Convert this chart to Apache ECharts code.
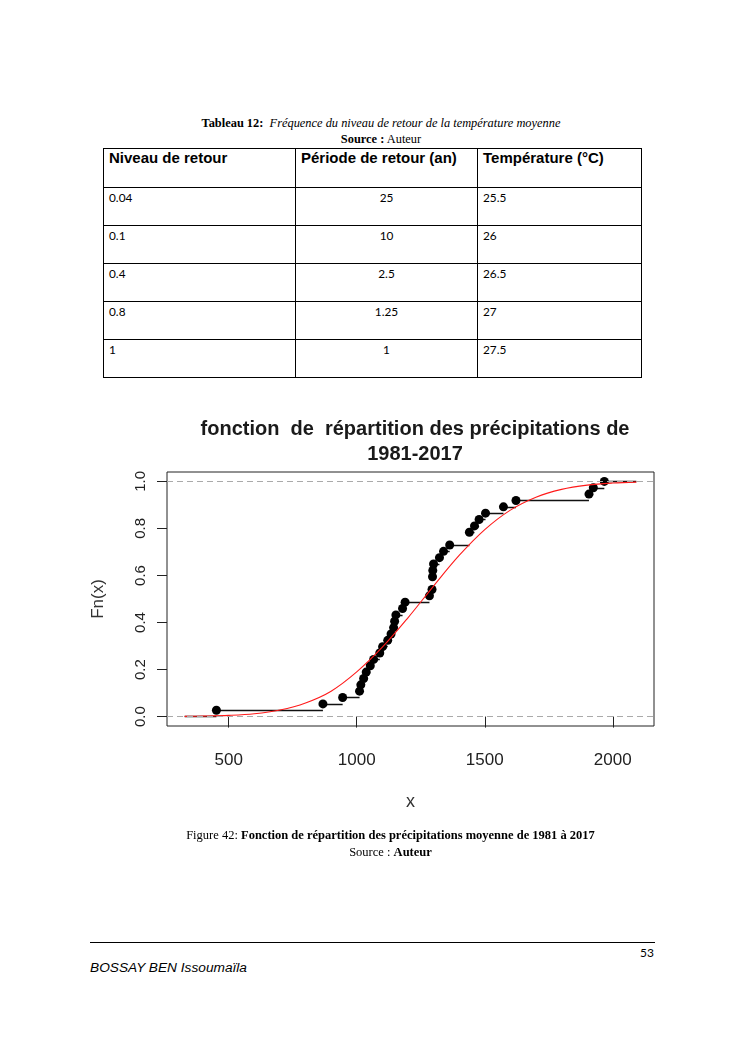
<!DOCTYPE html>
<html>
<head>
<meta charset="utf-8">
<script src="https://cdn.jsdelivr.net/npm/echarts@6/dist/echarts.min.js"></script>
<style>
  html, body { margin:0; padding:0; background:#fff; }
  #page { position:relative; width:745px; height:1053px; overflow:hidden; background:#fff; }
  #chart { position:absolute; left:0; top:380px; width:745px; height:440px; }
  .txt { position:absolute; white-space:nowrap; color:#000; }
  .serif { font-family:"Liberation Serif","DejaVu Serif",serif; }
  table.t { position:absolute; left:103px; top:148px; border-collapse:collapse; table-layout:fixed; }
  table.t td { border:1.3px solid #000; vertical-align:top; padding:0 0 0 5px; box-sizing:border-box; }
  table.t tr.h td { font-family:"Liberation Sans",Arial,sans-serif; font-weight:bold; font-size:15px; height:39px; padding-top:0px; }
  table.t tr.b td { font-family:Lato,"Open Sans",sans-serif; font-size:11.8px; height:38px; padding-top:2px; }
  table.t tr.b td.c { text-align:center; padding-left:0; }
</style>
</head>
<body>
<div id="page">
  <div class="txt serif" style="left:0;width:745px;top:116px;text-align:center;font-size:12.4px;padding-left:17px;box-sizing:border-box;" id="cap1"></div>
  <div class="txt serif" style="left:0;width:745px;top:132px;text-align:center;font-size:12.4px;padding-left:17px;box-sizing:border-box;"><b>Source :</b> Auteur</div>
  <table class="t" id="tbl"></table>
  <div id="chart"></div>
  <div class="txt serif" style="left:0;width:745px;top:828px;text-align:center;font-size:12.5px;padding-left:36px;box-sizing:border-box;">Figure 42: <b>Fonction de répartition des précipitations moyenne de 1981 à 2017</b></div>
  <div class="txt serif" style="left:0;width:745px;top:845px;text-align:center;font-size:12.5px;padding-left:36px;box-sizing:border-box;">Source : <b>Auteur</b></div>
  <div style="position:absolute;left:90px;top:942px;width:565px;height:1px;background:#000;"></div>
  <div class="txt" style="left:640px;top:945px;font-family:Lato,'Open Sans',sans-serif;font-size:12px;">53</div>
  <div class="txt" style="left:90px;top:960px;font-family:'Liberation Sans',Arial,sans-serif;font-style:italic;font-size:13.7px;">BOSSAY BEN Issoumaïla</div>
</div>
<script>
// ---------- Data ----------
const tableCaptionLabel = "Tableau 12:";
const tableCaptionText = "Fréquence du niveau de retour de la température moyenne";
const tableHeaders = ["Niveau de retour", "Période de retour (an)", "Température (°C)"];
const returnLevels = ["0.04", "0.1", "0.4", "0.8", "1"];
const returnPeriods = ["25", "10", "2.5", "1.25", "1"];
const temperatures = ["25.5", "26", "26.5", "27", "27.5"];

// Annual precipitation 1981-2017 (mm)
const precipitation = [452, 868, 945, 1011, 1016, 1027, 1037, 1053, 1066, 1090, 1101, 1121,
  1134, 1144, 1148, 1153, 1179, 1189, 1284, 1294, 1296, 1296, 1297, 1300, 1323, 1339, 1363,
  1440, 1440, 1460, 1478, 1503, 1573, 1622, 1907, 1924, 1967];

// Red fitted distribution curve
const fitX = [328, 400, 500, 600, 700, 800, 900, 1000, 1100, 1200, 1300, 1400, 1500, 1600, 1700, 1800, 1900, 2000, 2092];
const fitF = [0.001, 0.002, 0.005, 0.012, 0.028, 0.058, 0.108, 0.19, 0.295, 0.42, 0.555, 0.685, 0.795, 0.878, 0.933, 0.966, 0.984, 0.993, 0.997];

const stepFrom = 328, stepTo = 2092;     // extent of the step function
const xRange = [259, 2161], yRange = [-0.04, 1.04];
const xTicks = [500, 1000, 1500, 2000];
const yTicks = [0, 0.2, 0.4, 0.6, 0.8, 1];

const chartTitle = "fonction  de  répartition des précipitations de\n1981-2017";
const xName = "x", yName = "Fn(x)";

// ---------- Table ----------
document.getElementById('cap1').innerHTML = '<b>' + tableCaptionLabel + '</b>&nbsp;&nbsp;<i>' + tableCaptionText + '</i>';
const colW = [192, 182, 164];
let html = '<colgroup>' + colW.map(w => '<col style="width:' + w + 'px">').join('') + '</colgroup>';
html += '<tr class="h">' + tableHeaders.map(h => '<td>' + h + '</td>').join('') + '</tr>';
for (let i = 0; i < returnLevels.length; i++) {
  html += '<tr class="b"><td>' + returnLevels[i] + '</td><td class="c">' + returnPeriods[i] + '</td><td>' + temperatures[i] + '</td></tr>';
}
const tbl = document.getElementById('tbl');
tbl.innerHTML = html;
tbl.style.width = colW.reduce((a, b) => a + b, 0) + 'px';

// ---------- ECDF ----------
const sorted = precipitation.slice().sort((a, b) => a - b);
const n = sorted.length;
const knots = [], Fn = [];
sorted.forEach((v, i) => {
  if (knots.length && knots[knots.length - 1] === v) { Fn[Fn.length - 1] = (i + 1) / n; }
  else { knots.push(v); Fn.push((i + 1) / n); }
});
const segs = [{ coords: [[stepFrom, 0], [knots[0], 0]] }];
for (let i = 0; i < knots.length; i++) {
  const next = i + 1 < knots.length ? knots[i + 1] : stepTo;
  segs.push({ coords: [[knots[i], Fn[i]], [next, Fn[i]]] });
}
const pts = knots.map((k, i) => [k, Fn[i]]);
const fitData = fitX.map((x, i) => [x, fitF[i]]);

const FONT = '"Liberation Sans",Arial,sans-serif';
const chart = echarts.init(document.getElementById('chart'), null, { renderer: 'canvas' });
const top0 = 380;
chart.setOption({
  animation: false,
  backgroundColor: '#fff',
  title: {
    text: chartTitle, left: 410, textAlign: 'center', top: 412 - top0,
    textStyle: { fontFamily: FONT, fontWeight: 'bold', fontSize: 20, color: '#1a1a1a', lineHeight: 25 }
  },
  grid: { left: 167, top: 472 - top0, width: 487, height: 254, show: true, borderColor: '#222', borderWidth: 1, backgroundColor: 'transparent' },
  xAxis: {
    type: 'value', min: xRange[0], max: xRange[1],
    name: xName, nameLocation: 'middle', nameGap: 67,
    nameTextStyle: { fontFamily: FONT, fontSize: 18, color: '#333' },
    axisLine: { show: false },
    axisTick: { show: true, inside: false, length: 11, lineStyle: { color: '#222' }, customValues: xTicks },
    axisLabel: { fontFamily: FONT, fontSize: 17, color: '#222', margin: 26, customValues: xTicks,
      formatter: v => String(v) },
    splitLine: { show: false }
  },
  yAxis: {
    type: 'value', min: yRange[0], max: yRange[1],
    name: yName, nameLocation: 'middle', nameGap: 60, nameRotate: 90,
    nameTextStyle: { fontFamily: FONT, fontSize: 17, color: '#333' },
    axisLine: { show: false },
    axisTick: { show: true, inside: false, length: 10, lineStyle: { color: '#222' }, customValues: yTicks },
    axisLabel: { fontFamily: FONT, fontSize: 15, color: '#222', margin: 19, rotate: 90, customValues: yTicks,
      formatter: v => v.toFixed(1) },
    splitLine: { show: false }
  },
  series: [
    {
      type: 'line', data: [], silent: true,
      markLine: {
        symbol: 'none', silent: true, label: { show: false },
        lineStyle: { type: [6, 4], color: '#aaaaaa', width: 1 },
        data: [{ yAxis: 0 }, { yAxis: 1 }]
      }
    },
    {
      type: 'lines', coordinateSystem: 'cartesian2d', polyline: false, silent: true,
      lineStyle: { color: '#111', width: 1.3, opacity: 1 },
      data: segs
    },
    {
      type: 'line', data: fitData, smooth: 0.35, showSymbol: false, silent: true,
      lineStyle: { color: '#ff1a1a', width: 1.1 }
    },
    {
      type: 'scatter', data: pts, symbol: 'circle', symbolSize: 9, silent: true,
      itemStyle: { color: '#000', opacity: 1 }
    }
  ]
});
</script>
</body>
</html>
